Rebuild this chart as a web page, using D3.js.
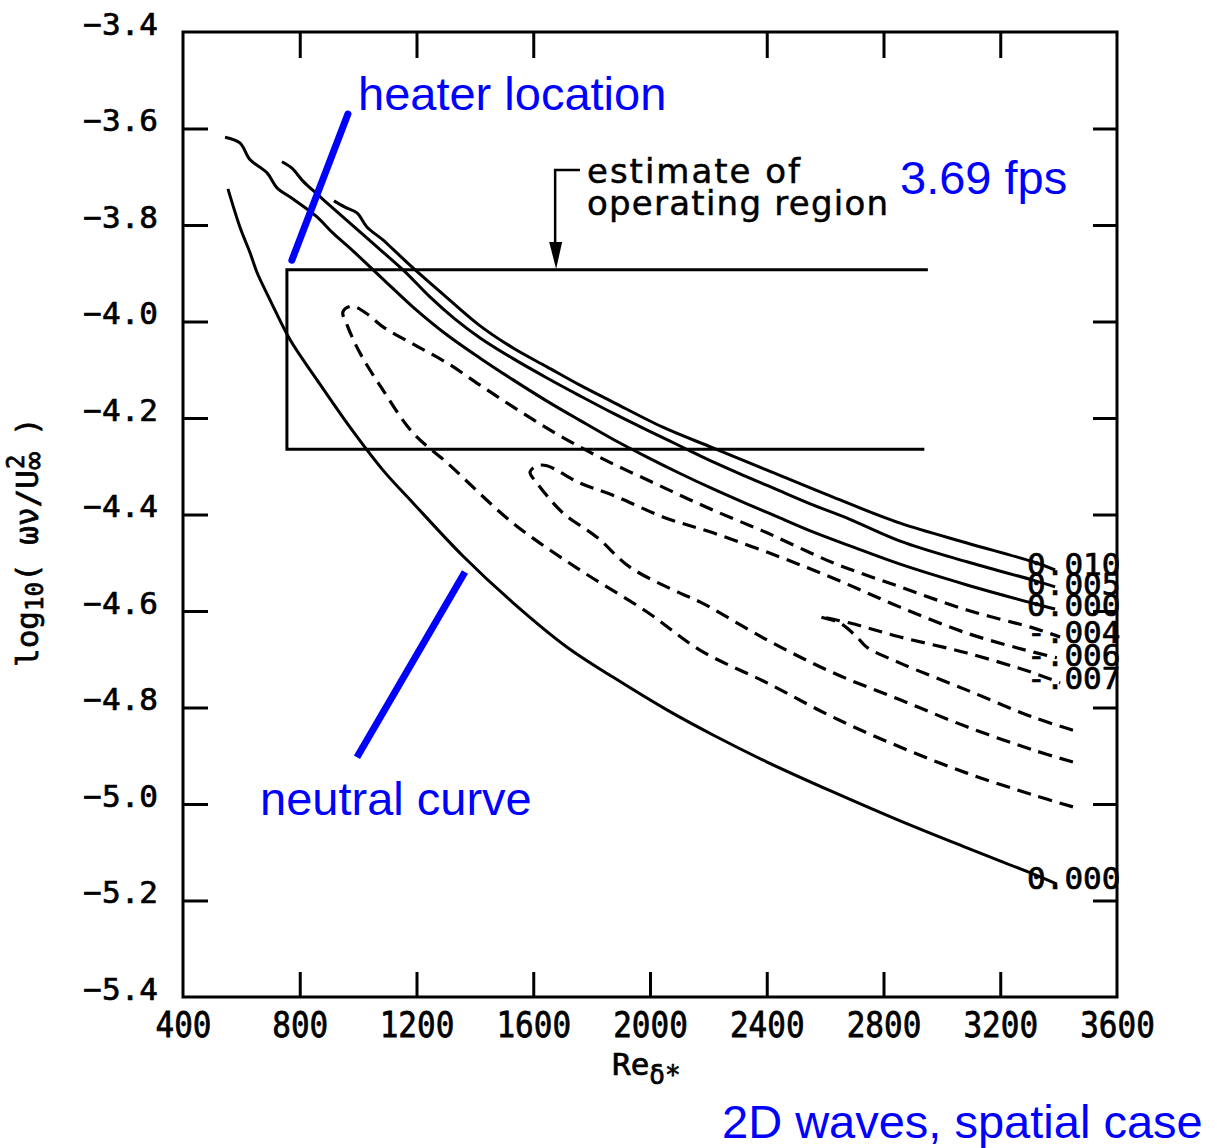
<!DOCTYPE html>
<html>
<head>
<meta charset="utf-8">
<script src="https://cdn.jsdelivr.net/npm/d3@7.9.0/dist/d3.min.js"></script>
<style>
  body { margin: 0; background: #fff; }
  svg { display: block; }
  .mono { font-family: "DejaVu Sans Mono", monospace; fill: #000; stroke: #000; stroke-width: 0.7px; }
  .tick text { font-family: "DejaVu Sans Mono", monospace; font-size: 31px; fill: #000; stroke: #000; stroke-width: 0.7px; }
  .note { font-family: "DejaVu Sans", sans-serif; font-size: 34px; fill: #000; stroke: #000; stroke-width: 0.5px; }
  .blue { font-family: "Liberation Sans", Arial, sans-serif; font-size: 47px; fill: #0000ff; }
</style>
</head>
<body>
<div id="chart"></div>
<script>
/* axes */
const xTicks = [400, 800, 1200, 1600, 2000, 2400, 2800, 3200, 3600];
const xTopTicks = [800, 1200, 1600, 2400, 2800, 3200];
const yTicks = [-3.4, -3.6, -3.8, -4.0, -4.2, -4.4, -4.6, -4.8, -5.0, -5.2, -5.4];
const yRightTicks = [-3.6, -3.8, -4.0, -4.2, -4.4, -4.6, -4.8, -5.0, -5.2];

/* contours: [Re, log10(w nu / U^2)] */
const curve010 = [[917,-3.750],[955,-3.763],[996,-3.775],[1030,-3.804],[1085,-3.831],[1119,-3.850],
  [1188,-3.889],[1305,-3.951],[1418,-4.009],[1531,-4.055],[1647,-4.094],[1760,-4.132],[1873,-4.167],
  [2044,-4.219],[2216,-4.262],[2401,-4.308],[2627,-4.364],[2857,-4.418],[3086,-4.459],[3312,-4.498],[3388,-4.515]];

const curve005 = [[739,-3.669],[773,-3.682],[811,-3.709],[852,-3.732],[893,-3.754],[972,-3.796],
  [1085,-3.856],[1161,-3.897],[1246,-3.949],[1332,-3.995],[1418,-4.034],[1531,-4.077],[1647,-4.117],
  [1760,-4.154],[1873,-4.190],[1990,-4.225],[2103,-4.258],[2216,-4.291],[2332,-4.322],[2445,-4.351],
  [2558,-4.380],[2685,-4.410],[2857,-4.455],[3086,-4.498],[3312,-4.536],[3388,-4.550]];

const neutralUpper = [[544,-3.618],[595,-3.630],[630,-3.665],[688,-3.692],[722,-3.723],[777,-3.746],
  [859,-3.783],[914,-3.817],[972,-3.848],[1085,-3.912],[1188,-3.970],[1305,-4.028],[1418,-4.076],
  [1531,-4.121],[1647,-4.165],[1760,-4.205],[1873,-4.244],[1990,-4.281],[2103,-4.315],[2216,-4.347],
  [2332,-4.378],[2445,-4.407],[2558,-4.436],[2685,-4.465],[2857,-4.503],[3086,-4.546],[3312,-4.584],[3388,-4.596]];

const neutralLower = [[554,-3.725],[595,-3.804],[630,-3.858],[654,-3.899],[698,-3.955],[767,-4.038],
  [859,-4.121],[972,-4.219],[1085,-4.308],[1188,-4.376],[1359,-4.486],[1531,-4.583],[1716,-4.675],
  [1873,-4.737],[2058,-4.805],[2216,-4.857],[2401,-4.913],[2627,-4.975],[2857,-5.035],[3086,-5.091],
  [3312,-5.145],[3394,-5.166]];

const curveM004 = [[3449,-5.006],[3312,-4.981],[3086,-4.936],[2857,-4.882],[2627,-4.820],[2401,-4.749],
  [2171,-4.681],[1990,-4.602],[1760,-4.515],[1531,-4.418],[1305,-4.293],[1188,-4.231],[1085,-4.142],
  [1006,-4.065],[962,-4.007],[948,-3.980],[979,-3.968],[1030,-3.984],[1085,-4.011],[1195,-4.049],
  [1305,-4.086],[1418,-4.132],[1531,-4.177],[1647,-4.221],[1760,-4.260],[1873,-4.295],[1990,-4.328],
  [2103,-4.360],[2216,-4.391],[2401,-4.438],[2627,-4.500],[2857,-4.550],[3086,-4.598],[3312,-4.635],[3405,-4.654]];

const curveM006 = [[3449,-4.913],[3312,-4.888],[3086,-4.840],[2857,-4.784],[2627,-4.728],[2401,-4.660],
  [2171,-4.581],[2103,-4.563],[1931,-4.509],[1818,-4.447],[1702,-4.397],[1613,-4.335],[1589,-4.312],
  [1613,-4.299],[1647,-4.299],[1760,-4.335],[1873,-4.360],[2044,-4.405],[2216,-4.438],[2445,-4.488],
  [2651,-4.538],[2857,-4.592],[3086,-4.646],[3312,-4.685],[3394,-4.697]];

const curveM007 = [[3449,-4.847],[3312,-4.820],[3086,-4.764],[2857,-4.708],[2743,-4.675],[2709,-4.654],
  [2651,-4.625],[2582,-4.612],[2685,-4.625],[2857,-4.654],[3086,-4.687],[3312,-4.728],[3405,-4.749]];

const contourLabels = ["0.010", "0.005", "0.000", "-.004", "-.006", "-.007", "0.000"];
const labelRe = 3292;
const labelLevels = [-4.526, -4.567, -4.610, -4.666, -4.714, -4.762, -5.176];

/* operating region box */
const regionRe = [756, 2952, 2940];
const regionLog = [-3.893, -4.265];
const arrowRe = [1675, 1760];
const arrowLog = [-3.686, -3.891];

const width = 1217, height = 1148;
const margin = { left: 183, right: 100, top: 32, bottom: 151 };

const svg = d3.select('#chart').append('svg')
  .attr('width', width)
  .attr('height', height);

const x = d3.scaleLinear().domain([400, 3600]).range([margin.left, width - margin.right]);
const y = d3.scaleLinear().domain([-5.4, -3.4]).range([height - margin.bottom, margin.top]);

// axes, ticks pointing into the plot
const gx = svg.append('g')
  .attr('transform', `translate(0,${y(-5.4)})`)
  .call(d3.axisBottom(x).tickValues(xTicks).tickSize(-25).tickSizeOuter(0).tickPadding(14).tickFormat(d3.format('d')));
gx.selectAll('.tick text').attr('dy', '0.71em').attr('transform', 'scale(1,1.12)');
gx.selectAll('.tick').filter(d => d === 400 || d === 3600).select('line').remove();

const gy = svg.append('g')
  .attr('transform', `translate(${x(400)},0)`)
  .call(d3.axisLeft(y).tickValues(yTicks).tickSize(-25).tickSizeOuter(0).tickPadding(25).tickFormat(d3.format('.1f')));
gy.selectAll('.tick text').attr('dy', '2px');
gy.selectAll('.tick').filter(d => d === -3.4 || d === -5.4).select('line').remove();

svg.append('g')
  .attr('transform', `translate(0,${y(-3.4)})`)
  .call(d3.axisTop(x).tickValues(xTopTicks).tickSize(-26).tickSizeOuter(0).tickFormat(''));

svg.append('g')
  .attr('transform', `translate(${x(3600)},0)`)
  .call(d3.axisRight(y).tickValues(yRightTicks).tickSize(-24).tickSizeOuter(0).tickFormat(''));

svg.selectAll('.domain').remove();
svg.selectAll('.tick line').attr('stroke', '#000').attr('stroke-width', 3);

// frame
svg.append('rect')
  .attr('x', x(400)).attr('y', y(-3.4))
  .attr('width', x(3600) - x(400)).attr('height', y(-5.4) - y(-3.4))
  .attr('fill', 'none').attr('stroke', '#000').attr('stroke-width', 3);

// contour lines
const line = d3.line().x(d => x(d[0])).y(d => y(d[1])).curve(d3.curveCatmullRom.alpha(0.5));

const solidCurves = [curve010, curve005, neutralUpper, neutralLower];
const dashedCurves = [curveM004, curveM006, curveM007];

svg.append('g').selectAll('path').data(solidCurves).join('path')
  .attr('d', line)
  .attr('fill', 'none').attr('stroke', '#000').attr('stroke-width', 3)
  .attr('stroke-linejoin', 'round');

svg.append('g').selectAll('path').data(dashedCurves).join('path')
  .attr('d', line)
  .attr('fill', 'none').attr('stroke', '#000').attr('stroke-width', 3.2)
  .attr('stroke-dasharray', '14,8');

svg.append('g').selectAll('text').data(contourLabels).join('text')
  .attr('class', 'mono')
  .attr('x', x(labelRe))
  .attr('y', (d, i) => y(labelLevels[i]))
  .attr('font-size', 31)
  .text(d => d);

// operating region box
svg.append('path')
  .attr('d', `M${x(regionRe[1])},${y(regionLog[0])} H${x(regionRe[0])} V${y(regionLog[1])} H${x(regionRe[2])}`)
  .attr('fill', 'none').attr('stroke', '#000').attr('stroke-width', 3);

// arrow to the box
svg.append('path')
  .attr('d', `M${x(arrowRe[1])},${y(arrowLog[0])} H${x(arrowRe[0])} V${y(arrowLog[1]) - 20}`)
  .attr('fill', 'none').attr('stroke', '#000').attr('stroke-width', 2.5);
svg.append('path')
  .attr('d', `M${x(arrowRe[0]) - 6},${y(arrowLog[1]) - 27} L${x(arrowRe[0]) + 7},${y(arrowLog[1]) - 27} L${x(arrowRe[0]) + 1},${y(arrowLog[1])} Z`)
  .attr('fill', '#000');

svg.append('text').attr('class', 'note')
  .attr('x', 587).attr('y', 183)
  .attr('textLength', 213).attr('lengthAdjust', 'spacing')
  .text('estimate of');
svg.append('text').attr('class', 'note')
  .attr('x', 587).attr('y', 215)
  .attr('textLength', 301).attr('lengthAdjust', 'spacing')
  .text('operating region');

// axis titles
const xt = svg.append('text').attr('class', 'mono').attr('x', 612).attr('y', 1075).attr('font-size', 31);
xt.append('tspan').text('Re');
xt.append('tspan').attr('font-size', 26).attr('dy', 9).text('δ*');

const yt = svg.append('text').attr('class', 'mono')
  .attr('transform', 'translate(38,667) rotate(-90)')
  .attr('font-size', 31);
yt.append('tspan').text('log');
yt.append('tspan').attr('font-size', 24).attr('dy', 5).text('10');
yt.append('tspan').attr('dy', -5).text('( ων/U');
yt.append('tspan').attr('font-size', 30).attr('dy', 6).text('∞');
yt.append('tspan').attr('font-size', 24).attr('dx', -17).attr('dy', -20).text('2');
yt.append('tspan').attr('dy', 14).text(' )');

// blue annotations
svg.append('line')
  .attr('x1', x(965)).attr('y1', y(-3.570)).attr('x2', x(773)).attr('y2', y(-3.873))
  .attr('stroke', '#0000ff').attr('stroke-width', 7).attr('stroke-linecap', 'round');
svg.append('line')
  .attr('x1', x(1366)).attr('y1', y(-4.519)).attr('x2', x(996)).attr('y2', y(-4.903))
  .attr('stroke', '#0000ff').attr('stroke-width', 7);

svg.append('text').attr('class', 'blue').attr('x', 358).attr('y', 110).text('heater location');
svg.append('text').attr('class', 'blue').attr('x', 900).attr('y', 194).text('3.69 fps');
svg.append('text').attr('class', 'blue').attr('x', 260).attr('y', 815).text('neutral curve');
svg.append('text').attr('class', 'blue').attr('x', 722).attr('y', 1138).text('2D waves, spatial case');
</script>
</body>
</html>
